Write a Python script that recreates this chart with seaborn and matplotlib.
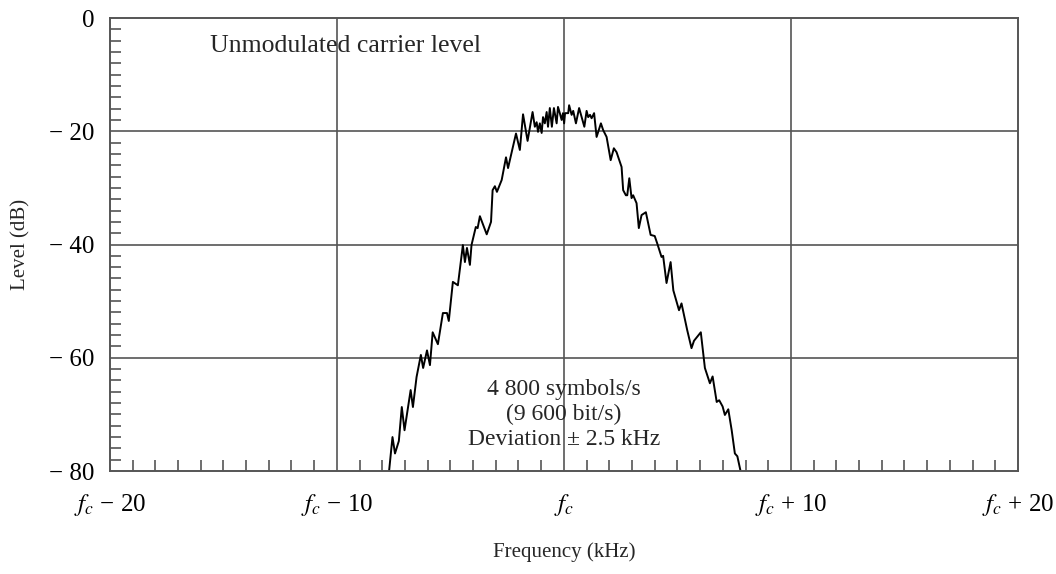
import numpy as np
import pandas as pd
import matplotlib
matplotlib.use('Agg')
import matplotlib.pyplot as plt
import seaborn as sns
from matplotlib.ticker import MultipleLocator, FixedLocator

# spectrum (offset from carrier in kHz, level in dB)
freq_offset = [-7.70, -7.55, -7.44, -7.27, -7.14, -7.02, -6.75, -6.65, -6.49, -6.30,
               -6.20, -6.03, -5.90, -5.78, -5.55, -5.33, -5.15, -5.07, -4.89, -4.67,
               -4.45, -4.36, -4.27, -4.14, -4.07, -3.88, -3.80, -3.70, -3.40, -3.21,
               -3.14, -3.04, -2.95, -2.74, -2.55, -2.46, -2.30, -2.11, -1.94, -1.80,
               -1.60, -1.38, -1.28, -1.20, -1.14, -1.06, -0.98, -0.92, -0.84, -0.76,
               -0.70, -0.62, -0.53, -0.44, -0.32, -0.26, -0.18, -0.10, -0.04, 0.01,
               0.05, 0.19, 0.23, 0.34, 0.41, 0.53, 0.67, 0.90, 1.00, 1.07,
               1.15, 1.22, 1.33, 1.44, 1.63, 1.73, 1.88, 2.06, 2.20, 2.32,
               2.54, 2.61, 2.73, 2.79, 2.88, 2.98, 3.05, 3.20, 3.30, 3.42,
               3.61, 3.82, 4.00, 4.11, 4.30, 4.37, 4.52, 4.70, 4.82, 5.07,
               5.18, 5.43, 5.62, 5.73, 6.03, 6.21, 6.43, 6.55, 6.73, 6.84,
               6.99, 7.09, 7.24, 7.39, 7.53, 7.64, 7.78]
level_db = [-80.0, -74.0, -76.9, -74.7, -68.7, -72.8, -65.7, -68.7, -63.4, -59.5,
            -61.8, -58.7, -61.3, -55.5, -57.6, -52.1, -52.1, -53.5, -46.6, -47.2,
            -40.1, -43.1, -40.6, -43.6, -40.1, -36.9, -37.1, -35.0, -38.2, -36.0,
            -30.4, -29.7, -30.7, -28.6, -24.6, -26.5, -23.7, -20.4, -23.3, -17.0,
            -21.7, -16.6, -19.2, -18.4, -20.1, -18.6, -20.3, -17.5, -18.6, -16.6,
            -19.2, -15.9, -19.2, -15.9, -18.6, -15.7, -16.8, -18.0, -16.8, -18.6,
            -16.8, -16.8, -15.4, -17.1, -16.4, -18.6, -15.9, -19.2, -16.4, -17.5,
            -17.1, -17.7, -16.8, -21.0, -18.6, -19.8, -21.0, -25.1, -23.0, -23.7,
            -26.3, -30.4, -31.3, -31.3, -28.3, -31.8, -31.3, -32.7, -37.1, -34.8,
            -34.3, -38.3, -38.5, -39.8, -42.2, -42.0, -46.8, -43.1, -48.1, -51.6,
            -50.4, -55.1, -58.3, -57.0, -55.5, -61.8, -64.5, -63.3, -67.8, -67.5,
            -68.6, -70.1, -69.1, -72.8, -76.9, -77.4, -80.0]

x_ticks = [-20, -10, 0, 10, 20]
x_tick_labels = [r'$f_c$' + ' \u2212 20', r'$f_c$' + ' \u2212 10', r'$f_c$',
                 r'$f_c$' + ' + 10', r'$f_c$' + ' + 20']
y_ticks = [0, -20, -40, -60, -80]
y_tick_labels = ['0', '\u2212 20', '\u2212 40', '\u2212 60', '\u2212 80']

df = pd.DataFrame({'freq': freq_offset, 'level': level_db})

sns.set_theme(style='white')
plt.rcParams['font.family'] = ['Liberation Serif', 'DejaVu Serif']
plt.rcParams['mathtext.fontset'] = 'stix'

grey = '#555555'
fig = plt.figure(figsize=(10.56, 5.74), dpi=100)
ax = fig.add_axes([0.104, 0.1794, 0.860, 0.7892])

sns.lineplot(data=df, x='freq', y='level', color='black', linewidth=1.4,
             estimator=None, sort=False, ax=ax)

ax.set_xlim(-20, 20)
ax.set_ylim(-80, 0)

ax.xaxis.set_major_locator(FixedLocator(x_ticks))
ax.set_xticklabels(x_tick_labels)
ax.yaxis.set_major_locator(FixedLocator(y_ticks))
ax.set_yticklabels(y_tick_labels)
ax.xaxis.set_minor_locator(MultipleLocator(1))
ax.yaxis.set_minor_locator(MultipleLocator(2))

ax.tick_params(axis='both', which='major', length=0, labelsize=18, colors='black')
ax.tick_params(axis='x', which='major', pad=15)
ax.tick_params(axis='y', which='major', pad=11)
ax.tick_params(axis='both', which='minor', direction='in', length=8, width=1.2,
               color=grey, bottom=True, left=True)

for s in ax.spines.values():
    s.set_color(grey)
    s.set_linewidth(1.4)

for gx in [-10, 0, 10]:
    ax.axvline(gx, color=grey, linewidth=1.2, zorder=1)
for gy in [-20, -40, -60]:
    ax.axhline(gy, color=grey, linewidth=1.2, zorder=1)

ax.text(-15.6, -5, 'Unmodulated carrier level', ha='left', va='center', fontsize=18.5)
ax.text(0, -70, '4 800 symbols/s\n(9 600 bit/s)\nDeviation \u00b1 2.5 kHz',
        ha='center', va='center', fontsize=17, linespacing=1.22, multialignment='center')

ax.set_xlabel('Frequency (kHz)', fontsize=15, va='center')
ax.set_ylabel('Level (dB)', fontsize=15, va='center')
ax.xaxis.set_label_coords(0.5, -0.179)
ax.yaxis.set_label_coords(-0.098, 0.5)

fig.savefig('out.png', dpi=100)
